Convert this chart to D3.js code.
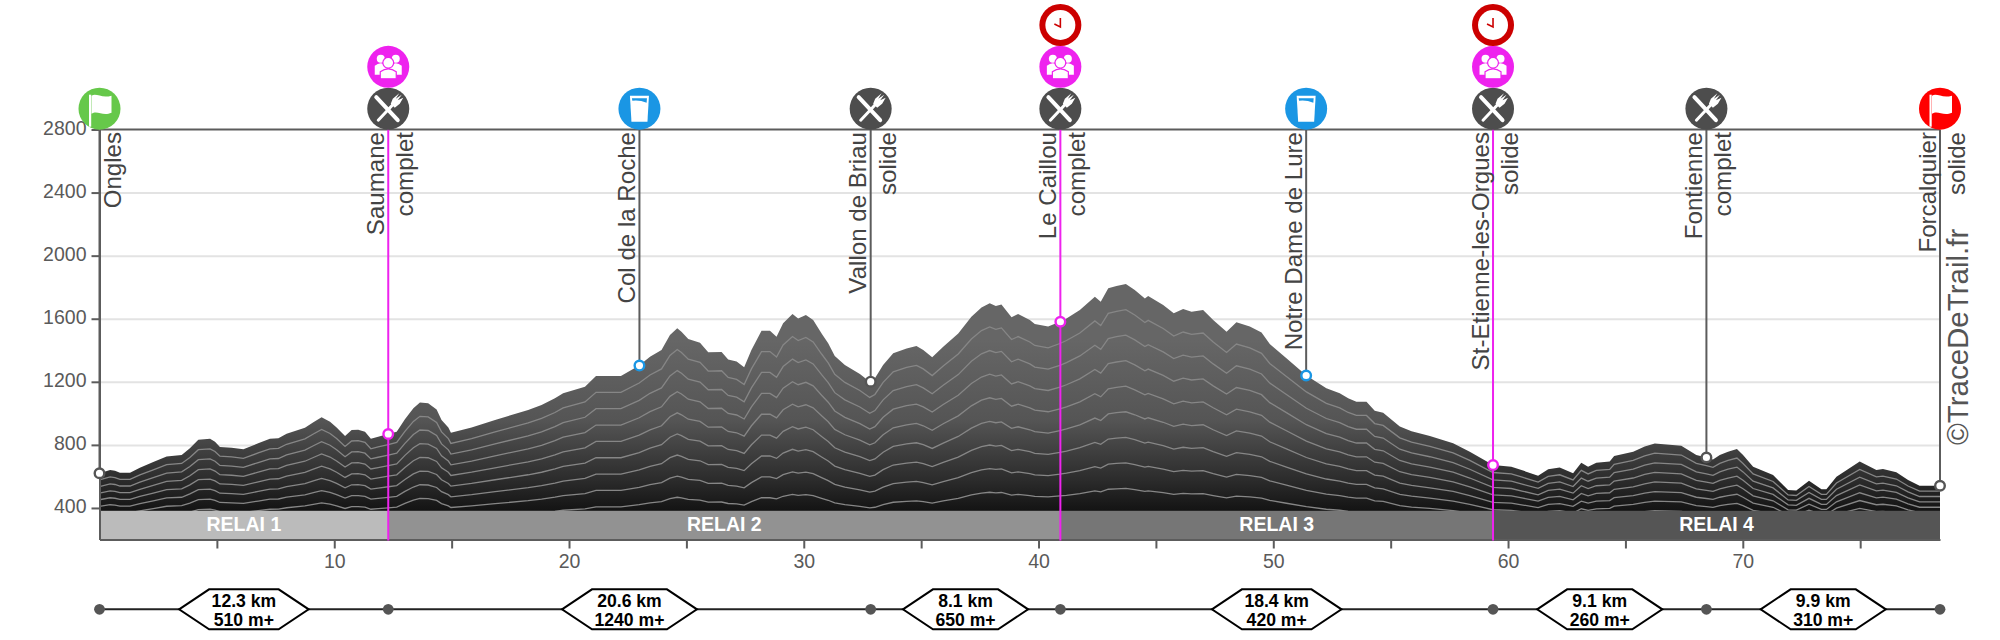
<!DOCTYPE html>
<html>
<head>
<meta charset="utf-8">
<title>Profil</title>
<script src="https://cdn.jsdelivr.net/npm/d3@7"></script>
<style>
    html, body { margin: 0; padding: 0; background: #fff; overflow: hidden; }
    svg { display: block; font-family: "Liberation Sans", Arial, sans-serif; }
    .grid line { stroke: #e3e3e3; stroke-width: 2; }
    .grid path { display: none; }
    .axis text { font-size: 19.5px; fill: #5a5a5a; font-family: "Liberation Sans", Arial, sans-serif; }
    .axis line, .axis path { stroke: #5c5c5c; stroke-width: 2; }
    .contour { fill: none; stroke: #868686; stroke-width: 1.3; }
    .stop-label { font-size: 24.1px; fill: #444; }
    .relay-label { font-size: 19.5px; font-weight: bold; fill: #fff; text-anchor: middle; }
    .leg-label { font-size: 17.6px; font-weight: bold; fill: #000; text-anchor: middle; }
    .copyright { font-size: 29.5px; fill: #555; }
</style>
</head>
<body>
<div id="chart"></div>
<script>
// Elevation profile (km, metres)
const profileKm = [
    0, 0.45, 0.66, 0.87, 1.30, 1.72, 2.29, 2.86, 3.50, 3.85, 4.21, 4.71, 4.92, 5.13, 5.63, 6.13, 6.76, 7.26, 7.62, 7.97,
    8.75, 9.11, 9.46, 9.82, 10.10, 10.46, 10.74, 11.02, 11.31, 11.56, 11.87, 12.30, 12.66, 13.01, 13.37, 13.65, 14.00, 14.36, 14.57, 14.86,
    14.97, 15.85, 16.85, 18.26, 18.83, 19.40, 19.75, 20.68, 21.15, 22.21, 22.99, 23.45, 23.94, 24.30, 24.61, 24.79, 25.08, 25.58, 25.93, 26.50,
    26.78, 27.14, 27.46, 27.77, 28.20, 28.56, 28.84, 29.12, 29.52, 29.76, 30.09, 30.40, 30.76, 31.04, 31.32, 31.75, 32.39, 32.81, 33.03, 33.38,
    33.81, 34.38, 34.80, 35.09, 35.47, 35.94, 36.58, 37.14, 37.57, 37.92, 38.18, 38.42, 38.85, 39.13, 39.63, 39.84, 40.41, 40.91, 41.19, 41.76,
    42.40, 42.65, 42.97, 43.32, 43.72, 44.10, 44.53, 44.67, 45.31, 45.76, 46.16, 46.52, 47.01, 47.44, 48.01, 48.43, 49.00, 49.50, 49.85, 50.56,
    51.41, 52.26, 52.83, 53.19, 53.54, 53.97, 54.32, 54.68, 55.39, 55.89, 56.67, 57.66, 58.37, 59.36, 60.14, 60.64, 61.28, 61.71, 62.20, 62.77,
    63.12, 63.41, 63.76, 64.33, 64.52, 65.33, 65.82, 66.25, 67.38, 68.02, 68.45, 68.73, 69.02, 69.37, 69.75, 70.01, 70.44, 71.29, 71.93, 72.28,
    72.82, 73.35, 73.56, 73.99, 74.98, 75.69, 75.97, 76.54, 77.04, 77.53, 78.40
];
const profileElev = [
    620, 641, 636, 624, 624, 655, 691, 727, 736, 778, 833, 839, 820, 787, 782, 772, 810, 839, 842, 871,
    909, 943, 975, 947, 911, 856, 894, 896, 884, 839, 852, 869, 884, 962, 1032, 1068, 1064, 1025, 958, 911,
    877, 911, 958, 1021, 1053, 1095, 1127, 1169, 1237, 1237, 1303, 1359, 1402, 1497, 1539, 1518, 1471, 1448, 1387, 1389,
    1342, 1328, 1292, 1402, 1524, 1524, 1486, 1571, 1630, 1602, 1624, 1592, 1507, 1444, 1364, 1307, 1250, 1201, 1222, 1307,
    1381, 1412, 1427, 1402, 1355, 1423, 1507, 1613, 1672, 1698, 1681, 1691, 1609, 1630, 1592, 1567, 1550, 1581, 1602, 1655,
    1740, 1708, 1793, 1808, 1820, 1782, 1729, 1744, 1687, 1634, 1662, 1645, 1655, 1592, 1518, 1577, 1550, 1512, 1440, 1349,
    1240, 1159, 1127, 1095, 1074, 1074, 1017, 1004, 916, 886, 856, 810, 757, 672, 662, 637, 605, 645, 656, 620,
    687, 662, 687, 694, 730, 757, 789, 808, 795, 736, 720, 708, 736, 757, 774, 736, 662, 609, 514, 510,
    573, 518, 518, 598, 694, 641, 647, 626, 577, 541, 541
];

// Aid stations along the course
const stopNames = ["Ongles", "Saumane", "Col de la Roche", "Vallon de Briau", "Le Caillou", "Notre Dame de Lure", "St-Etienne-les-Orgues", "Fontienne", "Forcalquier"];
const stopKm = [0, 12.3, 23.0, 32.85, 40.93, 51.4, 59.36, 68.45, 78.4];
const stopElev = [620, 869, 1303, 1201, 1581, 1240, 672, 720, 541];
const stopFood = ["", "complet", "", "solide", "complet", "", "solide", "complet", "solide"];
const stopTypes = ["start", "food", "drink", "food", "food", "drink", "food", "food", "finish"];
const stopRelay = [false, true, false, false, true, false, true, false, false];
const stopBarrier = [false, false, false, false, true, false, true, false, false];

// Relay sections
const relayNames = ["RELAI 1", "RELAI 2", "RELAI 3", "RELAI 4"];
const relayEnds = [0, 12.3, 40.93, 59.36, 78.4];

// Legs of the strip under the chart
const legKm = [0, 12.3, 32.85, 40.93, 59.36, 68.45, 78.4];
const legDistance = ["12.3 km", "20.6 km", "8.1 km", "18.4 km", "9.1 km", "9.9 km"];
const legClimb = ["510 m+", "1240 m+", "650 m+", "420 m+", "260 m+", "310 m+"];

// Axis ticks
const elevationTicks = [400, 800, 1200, 1600, 2000, 2400, 2800];
const distanceTicks = [5, 10, 15, 20, 25, 30, 35, 40, 45, 50, 55, 60, 65, 70, 75];
const contourLevels = [0.1, 0.2, 0.3, 0.4, 0.5, 0.6, 0.7, 0.8, 0.9];

const width = 2000;
const height = 640;

const x = d3.scaleLinear().domain([0, 78.4]).range([99.5, 1940]);
const y = d3.scaleLinear().domain([200, 2800]).range([539.5, 129.5]);

const relayColor = d3.scaleOrdinal().domain(relayNames).range(["#bbbbbb", "#929292", "#767676", "#555555"]);
const iconColor = { start: "#66c84a", food: "#4d4d4d", drink: "#1a96e4", finish: "#ff0000", relay: "#ee22ee", barrier: "#cc0000" };
const markerColor = { start: "#555", food: "#555", drink: "#1a96e4", finish: "#555" };
const magenta = "#ee22ee";

const profile = profileKm.map((km, i) => ({ km, elev: profileElev[i] }));
const stops = stopNames.map((name, i) => ({
    name, km: stopKm[i], elev: stopElev[i], food: stopFood[i], type: stopTypes[i], relay: stopRelay[i], barrier: stopBarrier[i]
}));

const svg = d3.select("#chart").append("svg")
    .attr("width", width)
    .attr("height", height)
    .attr("viewBox", `0 0 ${width} ${height}`);

// Gradient follows the page height, not each peak
const gradient = svg.append("defs").append("linearGradient")
    .attr("id", "relief")
    .attr("gradientUnits", "userSpaceOnUse")
    .attr("x1", 0).attr("x2", 0)
    .attr("y1", 340).attr("y2", 510);
gradient.selectAll("stop")
    .data([[0, "#666666"], [0.47, "#555555"], [0.82, "#2c2c2c"], [1, "#141414"]])
    .join("stop")
    .attr("offset", d => d[0])
    .attr("stop-color", d => d[1]);

// Gridlines
svg.append("g")
    .attr("class", "grid")
    .attr("transform", `translate(${x(0)}, 0)`)
    .call(d3.axisLeft(y).tickValues(elevationTicks.slice(0, -1)).tickSize(-(x(78.4) - x(0))).tickFormat(""));

// Relief
const area = d3.area().x(d => x(d.km)).y0(y(200)).y1(d => y(d.elev));
svg.append("path").datum(profile).attr("d", area).attr("fill", "url(#relief)");

// Contours: the same profile squashed towards the chart floor
svg.selectAll(".contour")
    .data(contourLevels)
    .join("path")
    .attr("class", "contour")
    .attr("d", level => d3.line().x(d => x(d.km)).y(d => y(200 + (d.elev - 200) * level))(profile));

// Relay band
const bandTop = y(382);
const relayBand = svg.append("g");
relayBand.selectAll("rect")
    .data(relayNames)
    .join("rect")
    .attr("x", (d, i) => x(relayEnds[i]))
    .attr("width", (d, i) => x(relayEnds[i + 1]) - x(relayEnds[i]))
    .attr("y", bandTop)
    .attr("height", y(200) - bandTop)
    .attr("fill", d => relayColor(d));
relayBand.selectAll("text")
    .data(relayNames)
    .join("text")
    .attr("class", "relay-label")
    .attr("x", (d, i) => (x(relayEnds[i]) + x(relayEnds[i + 1])) / 2)
    .attr("y", 531)
    .text(d => d);

// Axes
svg.append("g")
    .attr("class", "axis")
    .attr("transform", `translate(${x(0)}, 0)`)
    .call(d3.axisLeft(y).tickValues(elevationTicks).tickSize(8).tickSizeOuter(0).tickPadding(5).tickFormat(d3.format("d")))
    .selectAll("text")
    .attr("dy", "0.24em");
svg.append("g")
    .attr("class", "axis")
    .attr("transform", `translate(0, ${y(200)})`)
    .call(d3.axisBottom(x).tickValues(distanceTicks).tickSize(9).tickSizeOuter(0).tickPadding(5.5)
        .tickFormat(d => d % 10 === 0 ? d : ""));

// Top rule
svg.append("line")
    .attr("x1", x(0)).attr("x2", x(78.4))
    .attr("y1", y(2800)).attr("y2", y(2800))
    .attr("stroke", "#5c5c5c").attr("stroke-width", 2);

// Stems from the top rule down to the course
svg.selectAll(".stem")
    .data(stops)
    .join("line")
    .attr("class", "stem")
    .attr("x1", d => x(d.km)).attr("x2", d => x(d.km))
    .attr("y1", y(2800))
    .attr("y2", d => d.relay ? y(200) + 1 : y(d.elev))
    .attr("stroke", d => d.relay ? magenta : "#5c5c5c")
    .attr("stroke-width", 2);

// Circles on the course
svg.selectAll(".marker")
    .data(stops)
    .join("circle")
    .attr("class", "marker")
    .attr("cx", d => x(d.km))
    .attr("cy", d => y(d.elev))
    .attr("r", 4.8)
    .attr("fill", "#fff")
    .attr("stroke", d => d.relay ? magenta : markerColor[d.type])
    .attr("stroke-width", 2.4);

// Names and food type, rotated
const labels = svg.selectAll(".stop")
    .data(stops)
    .join("g")
    .attr("class", "stop");
labels.append("text")
    .attr("class", "stop-label")
    .attr("text-anchor", "end")
    .attr("transform", d => `translate(${x(d.km) + (d.type === "start" ? 21 : -4.5)}, 132) rotate(-90)`)
    .text(d => d.name);
labels.append("text")
    .attr("class", "stop-label")
    .attr("text-anchor", "end")
    .attr("transform", d => `translate(${x(d.km) + 25}, 132) rotate(-90)`)
    .text(d => d.food);

svg.append("text")
    .attr("class", "copyright")
    .attr("transform", `translate(1968, 445) rotate(-90)`)
    .text("©TraceDeTrail.fr");

// Icons
function drawFlag(g) {
    g.append("rect").attr("x", -10.5).attr("y", -14).attr("width", 2.2).attr("height", 32).attr("fill", "#fff");
    g.append("path").attr("fill", "#fff")
        .attr("d", "M-8,-13 C-3,-16 2,-10 12,-13 L12,4 C3,8 -2,1 -8,5 Z");
}
function drawCutlery(g) {
    g.append("path").attr("stroke", "#fff").attr("stroke-width", 4).attr("fill", "none")
        .attr("stroke-linecap", "round")
        .attr("d", "M-12,-11.5 L9.5,11.5");
    g.append("path").attr("stroke", "#fff").attr("stroke-width", 3).attr("fill", "none")
        .attr("stroke-linecap", "round")
        .attr("d", "M-10,11.5 L5,-4.5");
    g.append("path").attr("fill", "#fff")
        .attr("d", "M2.5,-5 L4.5,-10 L11,-15.5 L7.5,-10 L13.5,-14 L9.5,-8.5 L15,-11 L11.5,-5 L6.5,-1 Z");
}
function drawGlass(g, color) {
    g.append("path").attr("fill", "#fff").attr("d", "M-9.5,-13 L9.5,-13 L8,13 L-8,13 Z");
    g.append("path").attr("fill", color).attr("d", "M-7.5,-10.5 L7.5,-10.5 L7.2,-6 Q0,-9 -7.1,-8 Z");
}
function drawGroup(g) {
    [[-7.5, -8], [7.5, -8]].forEach(p => {
        g.append("circle").attr("cx", p[0]).attr("cy", p[1]).attr("r", 4).attr("fill", "#fff");
        g.append("path").attr("fill", "#fff")
            .attr("d", `M${p[0] - 6},8 L${p[0] - 6},-1 Q${p[0]},-6 ${p[0] + 6},-1 L${p[0] + 6},8 Z`);
    });
    g.append("circle").attr("cx", 0).attr("cy", -4).attr("r", 5.4).attr("fill", "#fff")
        .attr("stroke", iconColor.relay).attr("stroke-width", 1.2);
    g.append("path").attr("fill", "#fff").attr("stroke", iconColor.relay).attr("stroke-width", 1.2)
        .attr("d", "M-8,12 L-8,5 Q0,-1 8,5 L8,12 Z");
}
function drawClock(g) {
    g.append("circle").attr("r", 15).attr("fill", "#fff");
    g.append("path").attr("fill", "none").attr("stroke", iconColor.barrier).attr("stroke-width", 1.6)
        .attr("d", "M0,-7 L0,2 L-6,-1");
}

// Row 0 sits on the top rule, the others stack upwards
const iconRows = [108.7, 66.8, 25];
function addIcon(km, row, kind) {
    const g = svg.append("g").attr("transform", `translate(${x(km)}, ${iconRows[row]})`);
    g.append("circle").attr("r", 21).attr("fill", iconColor[kind]);
    if (kind === "start" || kind === "finish") drawFlag(g);
    if (kind === "food") drawCutlery(g);
    if (kind === "drink") drawGlass(g, iconColor.drink);
    if (kind === "relay") drawGroup(g);
    if (kind === "barrier") drawClock(g);
}
stops.forEach(d => {
    addIcon(d.km, 0, d.type);
    if (d.relay) addIcon(d.km, 1, "relay");
    if (d.barrier) addIcon(d.km, 2, "barrier");
});

// Leg strip
const stripY = 609.3;
svg.append("line")
    .attr("x1", x(0)).attr("x2", x(78.4))
    .attr("y1", stripY).attr("y2", stripY)
    .attr("stroke", "#222").attr("stroke-width", 2);
svg.selectAll(".leg-dot")
    .data(legKm)
    .join("circle")
    .attr("class", "leg-dot")
    .attr("cx", d => x(d))
    .attr("cy", stripY)
    .attr("r", 5.4)
    .attr("fill", "#555");

legDistance.forEach((dist, i) => {
    const cx = (x(legKm[i]) + x(legKm[i + 1])) / 2;
    const g = svg.append("g").attr("transform", `translate(${cx}, ${stripY})`);
    const hex = g.append("path").attr("fill", "#fff").attr("stroke", "#000").attr("stroke-width", 2);
    const top = g.append("text").attr("class", "leg-label").attr("y", -2).text(dist);
    const bottom = g.append("text").attr("class", "leg-label").attr("y", 16.7).text(legClimb[i]);
    // Hexagon width follows the longer text line
    const half = Math.max(top.node().getComputedTextLength(), bottom.node().getComputedTextLength()) / 2 + 32.5;
    hex.attr("d", `M${-half},0 L${-half + 30},-20 L${half - 30},-20 L${half},0 L${half - 30},20 L${-half + 30},20 Z`);
});
</script>
</body>
</html>
